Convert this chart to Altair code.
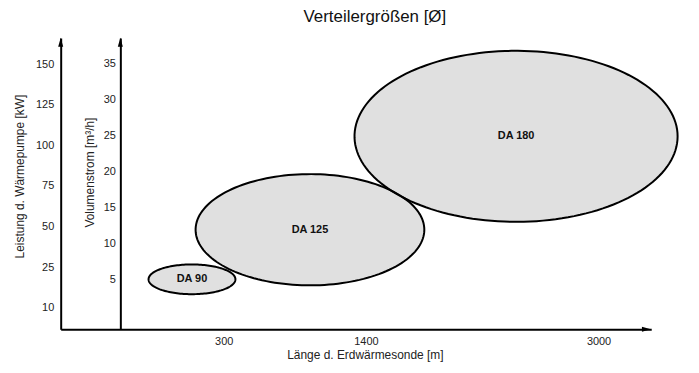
import altair as alt
import pandas as pd

# ---- texts ----
chart_title = "Verteilergrößen [Ø]"
x_title = "Länge d. Erdwärmesonde [m]"
y1_title = "Leistung d. Wärmepumpe [kW]"
y2_title = "Volumenstrom [m³/h]"

# ---- tick labels ----
x_ticks = [300, 1400, 3000]
leistung_ticks = ["150", "125", "100", "75", "50", "25", "10"]
volumen_ticks = [5, 10, 15, 20, 25, 30, 35]

# ---- ellipses ----
names = ["DA 90", "DA 125", "DA 180"]
center_m = [71, 921, 2406]        # Länge, centre
radius_m = [313, 824, 1164]       # Länge, half width
center_v = [5.0, 11.9, 24.9]      # Volumenstrom, centre
radius_v = [2.07, 7.74, 11.9]     # Volumenstrom, half height

W, H = 594, 293
FONT = "Liberation Sans"

ell = pd.DataFrame({"name": names, "cx": center_m, "rx": radius_m,
                    "cy": center_v, "ry": radius_v})

x_ell_scale = alt.Scale(domain=[-875, 3380], nice=False, zero=False)
y_vol_scale = alt.Scale(domain=[-1.94, 38.6], nice=False, zero=False)

axis_style = dict(grid=False, ticks=False, tickSize=0, domainColor="black",
                  domainWidth=2, labelFont=FONT, labelFontSize=11,
                  labelColor="#222", titleFont=FONT, titleFontSize=12,
                  titleFontWeight="normal", titleColor="#222")

y_vol_axis = alt.Axis(orient="left", offset=-60, values=volumen_ticks,
                      title=y2_title, labelPadding=5, titlePadding=7,
                      titleY=135, **axis_style)

# x axis layer (labels only)
x_axis_layer = alt.Chart(pd.DataFrame({"laenge": x_ticks})).mark_point(opacity=0).encode(
    x=alt.X("laenge:Q",
            scale=alt.Scale(domain=[-988, 300, 1400, 3000, 3358],
                            range=[0, 164, 307, 541, 594], nice=False, zero=False),
            axis=alt.Axis(orient="bottom", values=x_ticks, format="d", title=x_title,
                          labelPadding=6, titlePadding=3, titleX=306, **axis_style))
)

# Leistung axis layer
leistung_layer = alt.Chart(pd.DataFrame({"kw": leistung_ticks})).mark_point(opacity=0).encode(
    y=alt.Y("kw:N",
            scale=alt.Scale(type="point", domain=leistung_ticks, padding=0.59, align=0.55),
            axis=alt.Axis(orient="left", title=y1_title, labelPadding=7,
                          titlePadding=9, titleY=139, **axis_style))
)

base = alt.Chart(ell).transform_calculate(
    ts="sequence(0, 2*PI + 0.04, 0.04)"
).transform_flatten(["ts"], as_=["t"]).transform_calculate(
    px="datum.cx + datum.rx * cos(datum.t)",
    py="datum.cy + datum.ry * sin(datum.t)",
    py2="datum.cy - datum.ry * sin(datum.t)",
)

fill_layer = base.transform_filter("datum.t <= PI + 0.001").mark_area(
    color="#e0e0e0", opacity=1
).encode(
    x=alt.X("px:Q", scale=x_ell_scale, axis=None),
    y=alt.Y("py:Q", scale=y_vol_scale, axis=y_vol_axis),
    y2="py2:Q",
    detail="name:N",
)

outline_layer = base.mark_line(color="black", strokeWidth=2).encode(
    x=alt.X("px:Q", scale=x_ell_scale, axis=None),
    y=alt.Y("py:Q", scale=y_vol_scale, axis=y_vol_axis),
    detail="name:N",
    order="t:Q",
)

text_layer = alt.Chart(ell).mark_text(
    font=FONT, fontSize=11, fontWeight="bold", color="#111"
).encode(
    x=alt.X("cx:Q", scale=x_ell_scale, axis=None),
    y=alt.Y("cy:Q", scale=y_vol_scale, axis=y_vol_axis),
    text="name:N",
)

ellipses = alt.layer(fill_layer, outline_layer, text_layer)

# arrow heads
arrow_df = pd.DataFrame({"a": [0]})
arrow_up = "M0,-1L0.45,0.6L-0.45,0.6Z"
arrow_right = "M1,0L-0.6,-0.45L-0.6,0.45Z"
arrow1 = alt.Chart(arrow_df).mark_point(shape=arrow_up, filled=True, color="black",
                                        size=126, opacity=1).encode(
    x=alt.value(0), y=alt.value(5.6))
arrow2 = alt.Chart(arrow_df).mark_point(shape=arrow_up, filled=True, color="black",
                                        size=126, opacity=1).encode(
    x=alt.value(60), y=alt.value(5.6))
arrow3 = alt.Chart(arrow_df).mark_point(shape=arrow_right, filled=True, color="black",
                                        size=126, opacity=1).encode(
    x=alt.value(W - 6), y=alt.value(H))

chart = alt.layer(
    x_axis_layer, leistung_layer, ellipses, arrow1, arrow2, arrow3
).resolve_scale(
    x="independent", y="independent"
).properties(
    width=W, height=H,
    title=alt.TitleParams(chart_title, font=FONT, fontSize=17, fontWeight="normal",
                          color="#111", anchor="middle", frame="group", dx=19,
                          dy=15, offset=14, baseline="alphabetic"),
    autosize=alt.AutoSizeParams(type="none"),
    padding={"left": 53, "top": 29, "right": 40, "bottom": 40},
).configure_view(stroke=None)

chart.save("out.html", embed_options={"renderer": "svg", "actions": False})
